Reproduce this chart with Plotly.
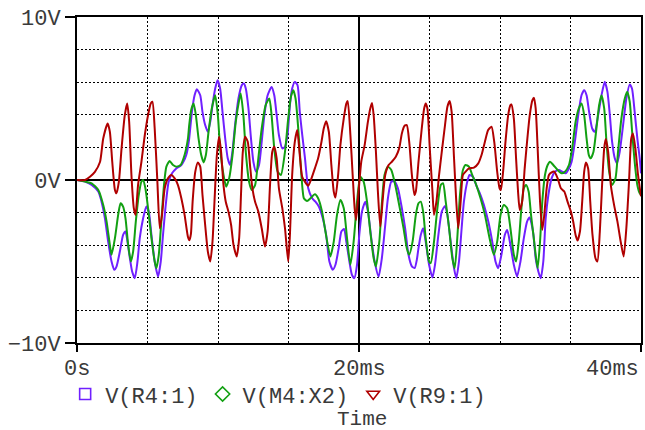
import plotly.graph_objects as go

# ---- data (time in ms, voltage in V) ----
t_r4 = [0, 0.57, 1.04, 1.51, 1.74, 1.98, 2.21, 2.45, 2.64, 2.80, 3.04, 3.27, 3.44, 3.58, 3.75, 3.91, 4.10, 4.29, 4.45, 4.69,
        4.92, 5.09, 5.28, 5.51, 5.75, 5.94, 6.10, 6.27, 6.50, 6.74, 7.04, 7.40, 7.75, 7.95, 8.15, 8.34, 8.50, 8.74, 8.90, 9.09,
        9.28, 9.45, 9.61, 9.80, 9.97, 10.15, 10.32, 10.51, 10.69, 10.86, 11.02, 11.21, 11.45, 11.69, 11.83, 11.97, 12.16, 12.34,
        12.51, 12.70, 12.91, 13.10, 13.29, 13.52, 13.80, 13.99, 14.16, 14.32, 14.56, 14.75, 14.93, 15.10, 15.26, 15.45, 15.64,
        15.80, 15.97, 16.16, 16.40, 16.68, 16.91, 17.15, 17.43, 17.67, 17.90, 18.14, 18.33, 18.56, 18.75, 18.94, 19.10, 19.32,
        19.50, 19.67, 19.86, 20.02, 20.21, 20.45, 20.64, 20.87, 21.11, 21.39, 21.62, 21.86, 22.05, 22.29, 22.52, 22.76, 23.04,
        23.27, 23.51, 23.75, 23.95, 24.10, 24.22, 24.38, 24.55, 24.73, 24.97, 25.21, 25.39, 25.63, 25.87, 26.10, 26.27, 26.50,
        26.74, 26.90, 27.09, 27.28, 27.44, 27.68, 27.84, 28.08, 28.31, 28.62, 28.86, 29.17, 29.45, 29.68, 29.87, 30.10, 30.34,
        30.51, 30.74, 30.98, 31.21, 31.45, 31.69, 31.92, 32.10, 32.20, 32.37, 32.53, 32.72, 32.89, 33.07, 33.24, 33.43, 33.66,
        33.90, 34.18, 34.42, 34.65, 34.89, 35.08, 35.31, 35.55, 35.78, 35.97, 36.14, 36.32, 36.54, 36.72, 36.96, 37.20, 37.43,
        37.62, 37.79, 37.95, 38.14, 38.30, 38.49, 38.73, 38.96, 39.20, 39.36, 39.55, 39.74, 39.91, 40.0]
v_r4 = [0, -0.1, -0.31, -0.71, -1.33, -2.35, -3.78, -5.0, -5.51, -5.31, -4.39, -3.37, -3.16, -3.78, -4.80, -5.61, -6.02, -5.0, -3.57, -2.35,
        -1.63, -1.94, -3.37, -5.0, -5.92, -5.0, -3.37, -1.73, -0.1, 0.41, 0.71, 0.92, 1.53, 2.5, 4.18, 5.2, 5.57, 5.2, 4.18, 3.37,
        2.96, 3.57, 4.59, 5.61, 6.12, 5.61, 4.18, 2.55, 1.33, 0.92, 1.73, 3.37, 5.0, 5.82, 5.92, 5.61, 4.39, 2.55,
        1.12, 0.51, 0.92, 2.35, 3.98, 5.2, 5.71, 5.2, 3.98, 2.76, 1.94, 2.04, 2.76, 4.59, 5.61, 6.02, 5.82,
        4.18, 2.8, 1.4, -0.51, -1.12, -1.33, -1.63, -2.35, -3.37, -5.0, -5.51, -5.2, -4.18, -3.16, -3.0, -3.78, -5.0,
        -5.82, -6.02, -5.2, -3.37, -1.94, -1.33, -1.94, -3.57, -5.0, -5.92, -4.8, -2.76, -1.12, -0.1, -0.1, -0.51, -1.73,
        -2.96, -4.59, -5.3, -5.4, -4.9, -4.18, -3.37, -2.96, -3.78, -5.2, -5.98, -5.2, -3.37, -1.94, -1.59, -2.14, -3.78,
        -5.41, -6.02, -5.0, -2.96, -1.33, -0.1, 0.31, 0.2, -0.31, -0.92, -1.53, -2.55, -3.78, -5.0, -5.41, -4.59, -3.37,
        -3.06, -3.98, -5.2, -5.92, -5.0, -3.57, -2.55, -2.3, -2.55, -3.37, -4.80, -5.61, -6.02, -5.0, -2.35, -0.92, 0.1,
        0.51, 0.61, 0.51, 0.41, 0.71, 1.12, 2.35, 3.98, 5.2, 5.51, 5.2, 4.18, 3.16, 2.96, 3.98, 5.2, 6.02,
        5.41, 3.98, 2.35, 1.33, 1.02, 1.73, 3.37, 5.0, 5.86, 5.61, 4.18, 2.55, 1.33, 0.41]

t_m4 = [0, 0.57, 1.04, 1.51, 1.86, 2.10, 2.33, 2.45, 2.69, 2.92, 3.09, 3.27, 3.44, 3.63, 3.82, 3.98, 4.17, 4.38, 4.57, 4.69,
        4.85, 5.04, 5.28, 5.51, 5.63, 5.80, 5.98, 6.17, 6.34, 6.57, 6.81, 7.04, 7.35, 7.63, 7.87, 7.95, 8.10, 8.27, 8.43, 8.62,
        8.81, 8.98, 9.14, 9.33, 9.56, 9.80, 9.99, 10.15, 10.39, 10.58, 10.79, 11.03, 11.26, 11.50, 11.61, 11.80, 11.97, 12.20,
        12.39, 12.63, 12.86, 13.10, 13.38, 13.64, 13.80, 13.99, 14.23, 14.46, 14.75, 14.98, 15.17, 15.34, 15.50, 15.69, 15.88,
        16.00, 16.09, 16.32, 16.56, 16.87, 17.10, 17.38, 17.62, 17.97, 18.21, 18.44, 18.68, 18.92, 19.15, 19.39, 19.62, 19.86,
        20.09, 20.33, 20.57, 20.80, 21.04, 21.20, 21.44, 21.63, 21.81, 22.05, 22.29, 22.57, 22.85, 23.16, 23.39, 23.56, 23.80,
        24.03, 24.22, 24.38, 24.55, 24.73, 24.97, 25.09, 25.32, 25.56, 25.80, 25.96, 26.15, 26.39, 26.62, 26.79, 26.97, 27.16,
        27.37, 27.56, 27.80, 28.03, 28.32, 28.62, 28.93, 29.26, 29.56, 29.80, 30.04, 30.27, 30.51, 30.74, 30.98, 31.14, 31.33,
        31.52, 31.69, 31.85, 32.03, 32.20, 32.37, 32.53, 32.67, 32.84, 33.00, 33.19, 33.38, 33.55, 33.78, 34.09, 34.37, 34.61,
        34.89, 35.12, 35.36, 35.59, 35.78, 35.97, 36.14, 36.30, 36.44, 36.63, 36.84, 37.03, 37.20, 37.39, 37.55, 37.74, 37.95,
        38.19, 38.37, 38.61, 38.85, 39.03, 39.20, 39.37, 39.55, 39.74, 39.91, 40.0]
v_m4 = [0, -0.1, -0.2, -0.61, -1.53, -2.55, -3.98, -4.59, -3.57, -2.14, -1.43, -1.63, -2.35, -3.98, -5.0, -4.39, -2.55, -0.92, -0.1, 0,
        -0.51, -1.73, -3.57, -5.0, -5.41, -4.59, -2.55, -0.31, 0.82, 1.16, 0.92, 0.82, 0.92, 1.53, 2.55, 3.3, 4.3, 4.69, 3.98, 2.55,
        1.53, 1.08, 1.53, 2.96, 4.39, 5.2, 3.98, 1.94, 0.31, -0.41, 0.1, 1.53, 3.57, 4.90, 5.31, 3.98, 1.73, -0.1,
        -0.61, -0.31, 1.33, 3.16, 4.59, 5.0, 3.98, 1.94, 0.51, 0.31, 1.73, 3.78, 5.1, 5.51, 5.0, 3.16, 0.71,
        -0.6, -1.12, -1.29, -1.12, -0.88, -1.12, -1.94, -3.16, -4.69, -3.78, -2.14, -1.22, -1.73, -3.57, -5.2, -3.78, -1.33,
        0.2, -0.1, -1.33, -3.16, -4.8, -5.31, -3.78, -1.33, 0.31, 0.82, 0.61, -0.31, -1.53, -2.96, -4.18, -4.59, -3.78,
        -2.14, -1.43, -1.33, -1.94, -3.57, -5.0, -5.1, -3.78, -1.73, -0.31, -0.2, -1.33, -2.96, -4.8, -5.41, -3.57, -0.92,
        0.61, 0.92, 0.82, 0.31, -0.31, -1.12, -2.14, -3.57, -4.59, -3.78, -2.14, -1.53, -1.73, -2.96, -4.59, -5.0, -3.78,
        -1.73, -0.51, -0.31, -0.71, -2.14, -3.37, -4.59, -5.41, -3.78, -1.33, 0.31, 0.92, 1.12, 0.92, 0.61, 0.41, 0.51,
        0.92, 1.94, 3.57, 4.39, 4.69, 3.98, 2.55, 1.53, 1.33, 1.73, 3.16, 4.59, 5.2, 4.39, 2.35, 0.51, -0.31,
        0.1, 1.73, 3.78, 5.0, 5.41, 4.80, 2.96, 1.12, -0.31, -0.82, -0.9]

t_r9 = [0, 0.57, 0.92, 1.27, 1.63, 1.86, 2.17, 2.33, 2.50, 2.69, 2.80, 2.97, 3.16, 3.39, 3.56, 3.70, 3.86, 4.03, 4.15, 4.33,
        4.57, 4.81, 5.04, 5.23, 5.35, 5.51, 5.70, 5.87, 6.03, 6.22, 6.45, 6.69, 6.93, 7.16, 7.40, 7.63, 7.87, 7.97, 8.08, 8.20,
        8.39, 8.57, 8.74, 8.90, 9.09, 9.28, 9.45, 9.61, 9.75, 9.92, 10.08, 10.22, 10.39, 10.55, 10.74, 10.93, 11.10, 11.33,
        11.50, 11.64, 11.76, 11.92, 12.11, 12.27, 12.44, 12.63, 12.86, 13.10, 13.33, 13.52, 13.69, 13.85, 13.99, 14.16, 14.32,
        14.56, 14.75, 14.98, 15.10, 15.26, 15.45, 15.62, 15.80, 15.97, 16.16, 16.40, 16.63, 16.87, 17.10, 17.34, 17.50, 17.67,
        17.86, 18.04, 18.21, 18.33, 18.52, 18.68, 18.92, 19.10, 19.20, 19.39, 19.55, 19.69, 19.79, 19.97, 20.16, 20.40, 20.63,
        20.80, 20.92, 21.04, 21.20, 21.34, 21.51, 21.67, 21.86, 22.10, 22.33, 22.61, 22.85, 23.04, 23.23, 23.39, 23.56, 23.75,
        23.93, 24.03, 24.22, 24.45, 24.62, 24.73, 24.85, 25.02, 25.21, 25.32, 25.49, 25.68, 25.87, 26.10, 26.27, 26.43, 26.57,
        26.74, 26.90, 27.04, 27.21, 27.37, 27.56, 27.80, 28.15, 28.46, 28.69, 28.93, 29.16, 29.40, 29.59, 29.80, 29.97, 30.06,
        30.22, 30.39, 30.58, 30.74, 30.81, 30.98, 31.14, 31.28, 31.40, 31.57, 31.75, 31.92, 32.11, 32.30, 32.41, 32.53, 32.67,
        32.84, 33.00, 33.14, 33.31, 33.47, 33.66, 33.85, 34.09, 34.32, 34.56, 34.79, 35.03, 35.19, 35.36, 35.50, 35.67, 35.83,
        35.97, 36.09, 36.25, 36.40, 36.56, 36.77, 36.91, 37.08, 37.24, 37.39, 37.50, 37.67, 37.86, 38.09, 38.33, 38.56, 38.77,
        38.96, 39.15, 39.31, 39.43, 39.60, 39.79, 39.95, 40.0]
v_r9 = [0, 0, 0.2, 0.5, 1.1, 2.55, 3.47, 2.96, 1.12, -0.61, -0.82, -0.1, 1.94, 3.98, 4.69, 3.57, 0.31, -1.73, -2.14, -0.31,
        1.12, 2.76, 3.98, 4.69, 4.80, 3.16, -0.1, -2.96, -2.14, -0.51, 0.1, 0.31, 0.1, -0.31, -1.12, -2.14, -3.5, -3.7, -3.3, -1.33,
        0.51, 1.08, 0.82, -0.92, -2.76, -4.39, -5.0, -3.78, -1.33, 1.53, 2.65, 1.73, -0.31, -1.33, -1.94, -2.76, -3.98, -4.69,
        -3.57, -0.71, 1.73, 2.65, 2.35, 0.92, -0.51, -1.33, -1.94, -2.96, -4.08, -3.16, -0.31, 1.73, 2.04, 1.33, -0.51,
        -1.73, -2.96, -5.0, -3.37, 0.31, 2.35, 3.06, 1.53, 0.2, -0.1, -0.35, 0.1, 0.71, 1.33, 2.35, 3.16, 3.61,
        2.96, 0.92, -0.71, -1.08, 0.31, 2.14, 3.78, 4.69, 4.84, 2.76, 0.31, -1.73, -2.45, -0.71, 1.12, 2.14, 3.57,
        4.39, 4.73, 3.98, 1.73, -0.71, -2.86, -1.33, 0.31, 0.92, 1.12, 1.43, 1.94, 2.86, 3.33, 3.37, 2.35, 0.31,
        -0.92, -0.71, 1.12, 3.16, 4.39, 4.69, 4.39, 1.94, -0.71, -2.14, -1.33, 0.31, 1.73, 3.37, 4.49, 4.84, 4.18,
        1.33, -1.33, -2.96, -1.33, 0.31, 0.51, 0.71, 0.76, 1.02, 1.53, 2.35, 3.06, 3.27, 2.35, 0.51, -0.51, -0.61,
        0.51, 2.35, 3.98, 4.59, 4.63, 3.78, 1.33, -0.71, -1.84, -1.33, 0.71, 2.35, 3.98, 4.90, 5.04, 4.39, 1.94,
        -1.33, -3.06, -2.14, -0.51, 0.31, 0.47, 0.51, 0.1, -0.51, -0.71, -1.33, -1.94, -2.55, -3.37, -3.71, -3.16, -1.33,
        0.51, 1.08, 0.71, -1.33, -3.37, -4.80, -5.0, -3.16, -0.31, 1.94, 2.51, 1.73, -0.31, -1.53, -2.55, -3.78, -4.69,
        -2.96, -0.1, 2.55, 2.86, 1.94, 0.31, -0.71, -1.0]

series_names = ["V(R4:1)", "V(M4:X2)", "V(R9:1)"]
series_colors = ["#7020FF", "#12A012", "#B00000"]
series_symbols = ["square-open", "diamond-open", "triangle-down-open"]

x_tick_vals = [0, 20, 40]
x_tick_text = ["0s", "20ms", "40ms"]
y_tick_vals = [-10, 0, 10]
y_tick_text = ["\u221210V", "0V", "10V"]

FONT = "Liberation Mono, Courier New, monospace"
TXT = "#3a3a3a"

fig = go.Figure()
for t, v, name, col in zip([t_r4, t_m4, t_r9], [v_r4, v_m4, v_r9], series_names, series_colors):
    fig.add_trace(go.Scatter(x=t, y=v, mode="lines", name=name, showlegend=False,
                             line=dict(color=col, width=2, shape="spline", smoothing=0.6)))
for name, col, sym in zip(series_names, series_colors, series_symbols):
    fig.add_trace(go.Scatter(x=[None], y=[None], mode="markers", name=name, showlegend=True,
                             marker=dict(symbol=sym, size=11, color=col, line=dict(color=col, width=1.6))))

# x tick labels as annotations (last one right-aligned like the reference)
anchors = ["center", "center", "right"]
for xv, txt, anc in zip(x_tick_vals, x_tick_text, anchors):
    fig.add_annotation(x=xv, xref="x", y=-0.08, yref="paper", text=txt, showarrow=False,
                       xanchor=anc, yanchor="middle", font=dict(family=FONT, size=22, color=TXT))
fig.add_annotation(x=0.505, xref="paper", y=-0.234, yref="paper", text="Time", showarrow=False,
                   xanchor="center", yanchor="middle", font=dict(family=FONT, size=21, color=TXT))

fig.update_layout(
    width=645, height=430,
    margin=dict(l=77, r=2, t=17, b=87),
    paper_bgcolor="white", plot_bgcolor="white",
    font=dict(family=FONT, size=22, color=TXT),
    legend=dict(orientation="h", x=-0.021, xanchor="left", y=-0.157, yanchor="middle",
                font=dict(family=FONT, size=22, color=TXT), bgcolor="rgba(0,0,0,0)",
                itemclick=False),
    xaxis=dict(range=[0, 40], tickvals=x_tick_vals, showticklabels=False,
               ticks="outside", ticklen=7, tickwidth=2, tickcolor="black",
               showline=True, mirror=True, linecolor="black", linewidth=2,
               showgrid=True, gridcolor="black", gridwidth=2, zeroline=False,
               minor=dict(dtick=5, tick0=0, showgrid=True, gridcolor="black", gridwidth=1,
                          griddash="2px,2px", ticks="")),
    yaxis=dict(range=[-10, 10], tickvals=y_tick_vals, ticktext=y_tick_text,
               ticks="outside", ticklen=10, tickwidth=2, tickcolor="black",
               showline=True, mirror=True, linecolor="black", linewidth=2,
               showgrid=False, zeroline=True, zerolinecolor="black", zerolinewidth=2,
               tickfont=dict(family=FONT, size=22, color=TXT),
               minor=dict(dtick=2, tick0=0, showgrid=True, gridcolor="black", gridwidth=1,
                          griddash="2px,2px", ticks="")),
)

fig.write_html("out.html")
